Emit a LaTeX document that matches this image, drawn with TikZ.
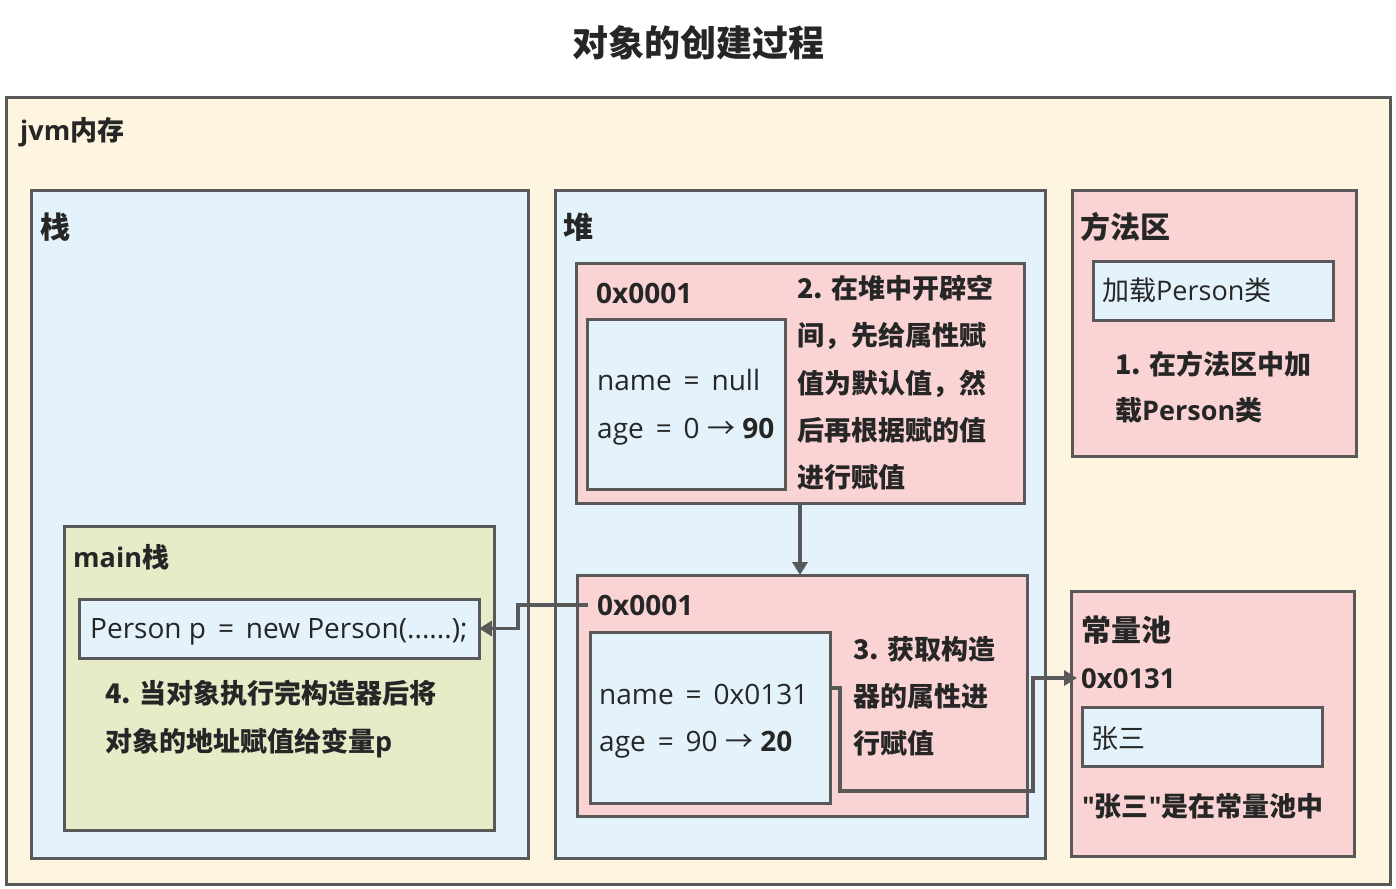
\documentclass[tikz,border=0pt]{standalone}
\usepackage{fontspec}
\setmainfont{Noto Sans CJK SC}
\newfontfamily\lat{Open Sans}
\newfontfamily\sym{DejaVu Sans}
\usetikzlibrary{arrows.meta}
\definecolor{bordc}{HTML}{595959}
\definecolor{txtc}{HTML}{262626}
\definecolor{creamc}{HTML}{FDF5E0}
\definecolor{bluec}{HTML}{E3F2FB}
\definecolor{pinkc}{HTML}{FAD4D4}
\definecolor{greenc}{HTML}{E6EBC8}
\tikzset{
  box/.style={draw=bordc, line width=3pt, anchor=north west, inner sep=0pt, outer sep=0pt},
  txt/.style={anchor=base west, inner sep=0pt, text=txtc, font=\fontsize{27}{32}\selectfont},
  btxt/.style={txt, font=\fontsize{27}{32}\selectfont\bfseries},
  head/.style={txt, font=\fontsize{30}{36}\selectfont\bfseries},
  ltxt/.style={txt, font=\fontsize{28}{32}\selectfont\lat},
  arr/.style={draw=bordc, line width=3.5pt, -{Triangle[width=15pt,length=13pt]}}
}
\newcommand{\bx}[6]{\node[box, fill=#6, minimum width=#4pt-#2pt, minimum height=#5pt-#3pt] (#1) at (#2,#3) {};}
\newcommand{\rarr}{{\fontspec{Noto Sans CJK SC}\fontsize{28}{32}\selectfont →}}
\begin{document}
\begin{tikzpicture}[x=1pt,y=-1pt]
\useasboundingbox (0,0) rectangle (1396,888);
\fill[white] (0,0) rectangle (1396,888);
% title
\node[anchor=base, inner sep=0pt, text=txtc, font=\fontsize{36}{40}\selectfont\bfseries] (title) at (698,57) {对象的创建过程};
% outer
\bx{jvm}{6}{98}{1390}{884}{creamc}
\node[head, font=\fontsize{27}{32}\selectfont\bfseries] (jvmlbl) at (20,140) {{\lat jvm}内存};
% stack
\bx{stack}{31}{190}{528}{858}{bluec}
\node[head] (stacklbl) at (40,238) {栈};
% heap
\bx{heap}{555}{190}{1045}{858}{bluec}
\node[head] (heaplbl) at (563,238) {堆};
% method area
\bx{method}{1072}{190}{1356}{456}{pinkc}
\node[head] (methodlbl) at (1080,238) {方法区};
\bx{load}{1093}{261}{1333}{320}{bluec}
\node[txt] (loadtxt) at (1102,300) {加载{\lat Person}类};
\node[btxt] (m1) at (1115,374) {1. 在方法区中加};
\node[btxt] (m2) at (1115,420) {载{\lat\bfseries Person}类};
% constant pool
\bx{pool}{1071}{591}{1354}{856}{pinkc}
\node[head] (poollbl) at (1081,641) {常量池};
\node[btxt, font=\fontsize{27.5}{32}\selectfont\lat\bfseries] (addr3) at (1081,688) {0x0131};
\bx{zs}{1082}{707}{1322}{766}{bluec}
\node[txt] (zstxt) at (1091,748) {张三};
\node[btxt] (pooltxt) at (1082,816) {{\lat\bfseries "}张三{\lat\bfseries "}是在常量池中};
% heap object 1
\bx{h1}{576}{263}{1024}{503}{pinkc}
\node[btxt, font=\fontsize{28}{32}\selectfont\lat\bfseries] (addr1) at (596,303) {0x0001};
\bx{in1}{587}{319}{785}{489}{bluec}
\node[ltxt] (n1) at (597,390) {name \,=\, null};
\node[ltxt] (a1) at (597,438) {age \,=\, 0 \rarr\ {\bfseries 90}};
\node[btxt] (s2a) at (797,298) {2. 在堆中开辟空};
\node[btxt] (s2b) at (797,345) {间，先给属性赋};
\node[btxt] (s2c) at (797,393) {值为默认值，然};
\node[btxt] (s2d) at (797,440) {后再根据赋的值};
\node[btxt] (s2e) at (797,487) {进行赋值};
% heap object 2
\bx{h2}{577}{575}{1027}{816}{pinkc}
\node[btxt, font=\fontsize{28}{32}\selectfont\lat\bfseries] (addr2) at (597,615) {0x0001};
\bx{in2}{590}{632}{830}{803}{bluec}
\node[ltxt] (n2) at (599,704) {name \,=\, 0x0131};
\node[ltxt] (a2) at (599,751) {age \,=\, 90 \rarr\ {\bfseries 20}};
\node[btxt] (s3a) at (853,659) {3. 获取构造};
\node[btxt] (s3b) at (853,706) {器的属性进};
\node[btxt] (s3c) at (853,753) {行赋值};
% main stack
\bx{main}{64}{526}{494}{830}{greenc}
\node[head, font=\fontsize{27}{32}\selectfont\bfseries] (mainlbl) at (73,567) {{\lat\bfseries main}栈};
\bx{pvar}{79}{599}{479}{658}{bluec}
\node[ltxt] (ptxt) at (90,638) {Person p \,=\, new Person(......);};
\node[btxt] (s4a) at (105,703) {4. 当对象执行完构造器后将};
\node[btxt] (s4b) at (105,751) {对象的地址赋值给变量{\lat\bfseries p}};
% connectors
\draw[arr] (800,503) -- (800,575);
\coordinate (c2) at (588,605);
\draw[arr] (c2) -- ++(-70,0) |- (pvar.east);
\coordinate (c3) at (830,688);
\coordinate (c3t) at (1077,678);
\draw[arr] (c3) -- ++(10,0) -- ++(0,103) -| (1033,678) -- (c3t);
\end{tikzpicture}
\end{document}
